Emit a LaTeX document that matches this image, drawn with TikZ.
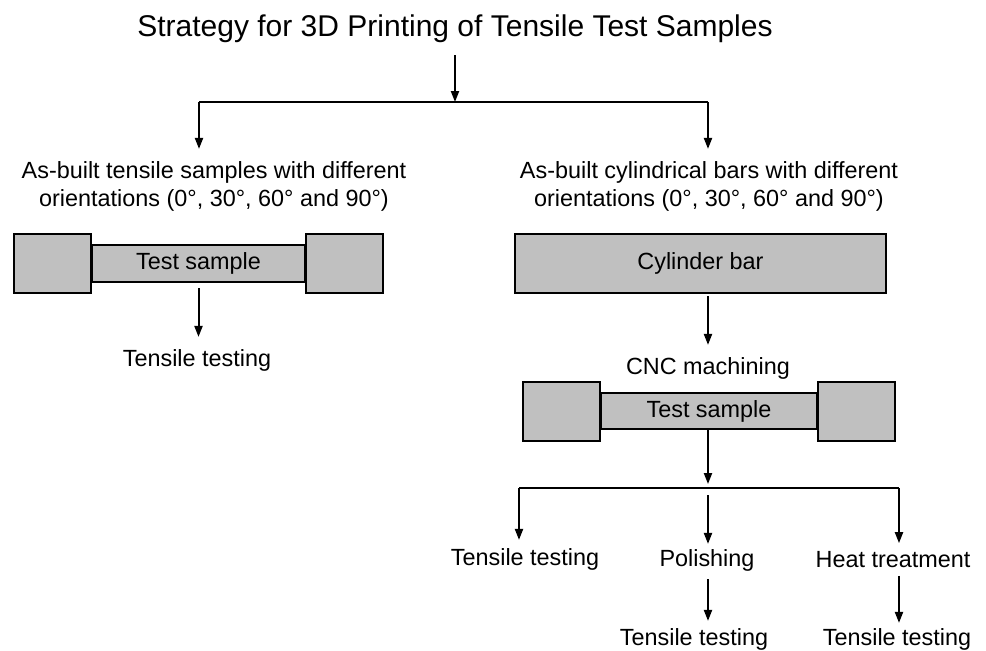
\documentclass[tikz,border=0pt]{standalone}
\usepackage{fontspec}
\setmainfont{Liberation Sans}
\usetikzlibrary{arrows.meta,positioning}
\definecolor{boxgray}{HTML}{C0C0C0}
\tikzset{
  flow/.style={line width=2pt,-{Triangle[length=11pt,width=8pt]}},
  branch/.style={line width=2pt},
  grip/.style={draw,line width=2pt,fill=boxgray,minimum width=77pt,minimum height=59pt,inner sep=0pt},
  bar/.style={draw,line width=2pt,fill=boxgray,minimum height=37pt,inner sep=0pt,font=\fontsize{23.4}{28}\selectfont},
  txt/.style={font=\fontsize{23.4}{28}\selectfont,inner sep=0pt,align=center},
}
\begin{document}
\begin{tikzpicture}[x=1pt,y=-1pt]
    \useasboundingbox (0,0) rectangle (986,651);
    \node[font=\fontsize{30}{36}\selectfont,inner sep=0pt] (title) at (455,29) {Strategy for 3D Printing of Tensile Test Samples};
    \coordinate (split) at (455,102);
    \coordinate (splitL) at (199,102); \coordinate (splitR) at (708,102);
    \draw[flow] (title.south |- 0,55) -- (split);
    \draw[branch] (splitL) -- (splitR);
    % left branch
    \node[txt] (orientL) at (214,186) {As-built tensile samples with different\\orientations (0°, 30°, 60° and 90°)};
    \node[txt] (orientR) at (709,186) {As-built cylindrical bars with different\\orientations (0°, 30°, 60° and 90°)};
    \draw[flow] (splitL) -- (splitL |- orientL.north) [shorten >=12pt];
    \draw[flow] (splitR) -- (splitR |- orientR.north) [shorten >=12pt];
    \node[bar,minimum width=213pt] (barL) at (198.5,263.5) {Test sample};
    \node[grip,left=-1pt of barL] (gripLa) {};
    \node[grip,right=-1pt of barL] (gripLb) {};
    \node[txt] (tensL) at (197,360) {Tensile testing};
    \draw[flow,shorten <=5pt,shorten >=12pt] (barL.south) -- (barL.south |- tensL.north);
    % right branch
    \node[bar,minimum width=371pt,minimum height=59pt] (cyl) at (700.5,263.5) {Cylinder bar};
    \node[txt] (cnc) at (708,368) {CNC machining};
    \draw[flow,shorten <=2pt,shorten >=12pt] (cyl.south -| splitR) -- (splitR |- cnc.north);
    \node[bar,minimum width=216pt,minimum height=36pt] (barR) at (709,411) {Test sample};
    \node[grip,left=-1pt of barR] (gripRa) {};
    \node[grip,right=-1pt of barR] (gripRb) {};
    \coordinate (fork) at (708,488);
    \coordinate (forkL) at (519,488); \coordinate (forkR) at (899,488);
    \draw[flow,shorten >=4pt] (barR.south -| fork) -- (fork);
    \draw[branch] (forkL) -- (forkR);
    \node[txt] (tensA) at (525,559) {Tensile testing};
    \node[txt] (polish) at (707,560) {Polishing};
    \node[txt] (heat) at (893,559.5) {Heat treatment};
    \draw[flow,shorten >=8pt] (forkL) -- (forkL |- tensA.north);
    \draw[flow,shorten <=7pt,shorten >=5pt] (fork) -- (fork |- polish.north);
    \draw[flow,shorten >=8pt] (forkR) -- (forkR |- heat.north);
    \node[txt] (tensB) at (694,639) {Tensile testing};
    \node[txt] (tensC) at (897,639) {Tensile testing};
    \draw[flow,shorten <=8pt,shorten >=7pt] (polish.south -| fork) -- (fork |- tensB.north);
    \draw[flow,shorten <=8pt,shorten >=5pt] (heat.south -| forkR) -- (forkR |- tensC.north);
\end{tikzpicture}
\end{document}
